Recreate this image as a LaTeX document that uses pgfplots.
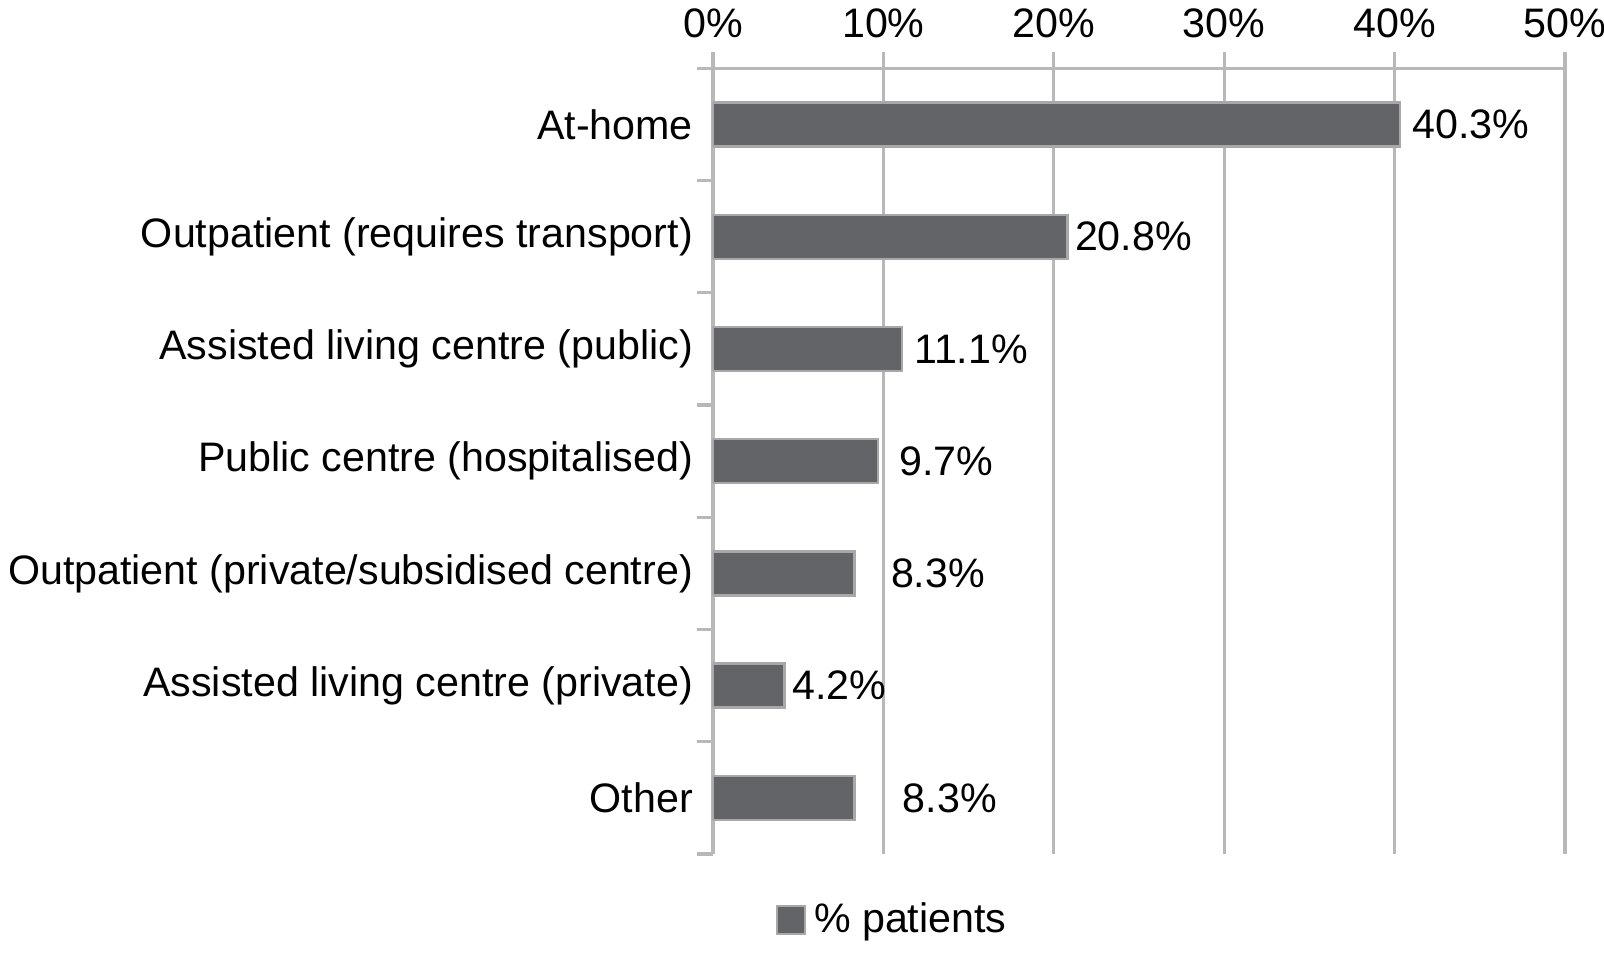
\documentclass[border=0pt]{standalone}
\usepackage{pgfplots}
\pgfplotsset{compat=1.18}
\usepackage{fontspec}
\setmainfont{Liberation Sans}
\definecolor{barfill}{HTML}{636467}
\definecolor{barline}{HTML}{A8A8A8}
\definecolor{gridc}{HTML}{B8B8B8}
\begin{document}
\begin{tikzpicture}
\begin{axis}[
  scale only axis, width=213pt, height=196.4pt,
  bar width=11pt,
  xmin=0, xmax=50, ymin=-0.5, ymax=6.5, y dir=reverse,
  axis x line*=top, axis y line*=left,
  axis line style={gridc, line width=0.8pt},
  tick align=outside, major tick length=4pt,
  xtick={0,10,...,50},
  xticklabel={\pgfmathprintnumber{\tick}\%},
  xtick style={gridc, line width=0.8pt},
  xmajorgrids, grid style={gridc, line width=0.8pt},
  ytick={0,...,6},
  yticklabels={At-home, Outpatient (requires transport), Assisted living centre (public), Public centre (hospitalised), Outpatient (private/subsidised centre), Assisted living centre (private), Other},
  ytick style={draw=none},
  yticklabel style={xshift=2.5pt},
  extra y ticks={-0.5,0.5,...,6.5},
  extra y tick labels={},
  extra y tick style={ytick style={draw=gridc, line width=0.8pt}, grid=none},
  tick label style={font=\fontsize{10.3}{12}\selectfont, text=black},
  /pgf/number format/assume math mode=true,
  legend style={draw=none, at={(rel axis cs:0.214,-0.040)}, anchor=north, font=\fontsize{10.3}{12}\selectfont},
  legend image code/.code={\draw[fill=barfill, draw=barline, line width=0.5pt] (0pt,-3.5pt) rectangle (7pt,3.5pt);},
]
\addplot[xbar, fill=barfill, draw=barline, line width=0.6pt] coordinates {
  (40.3,0) (20.8,1) (11.1,2) (9.7,3) (8.3,4) (4.2,5) (8.3,6)
};
\addlegendentry{\% patients}
\addplot[forget plot, only marks, mark=none, point meta=explicit,
  nodes near coords={\pgfmathprintnumber[fixed,precision=1,fixed zerofill]{\pgfplotspointmeta}\%},
  every node near coord/.style={anchor=west, inner sep=0pt, text=black, font=\fontsize{10.3}{12}\selectfont}]
  table[meta=v] {
x y v
41.0 0 40.3
21.2 1 20.8
11.76 2 11.1
10.9 3 9.7
10.4 4 8.3
4.6 5 4.2
11.1 6 8.3
};
\end{axis}
\pgfresetboundingbox
\path[use as bounding box] ([shift={(-178.25pt,-26.5pt)}]current axis.south west) rectangle ([shift={(9.75pt,17.1pt)}]current axis.north east);
\end{tikzpicture}
\end{document}
